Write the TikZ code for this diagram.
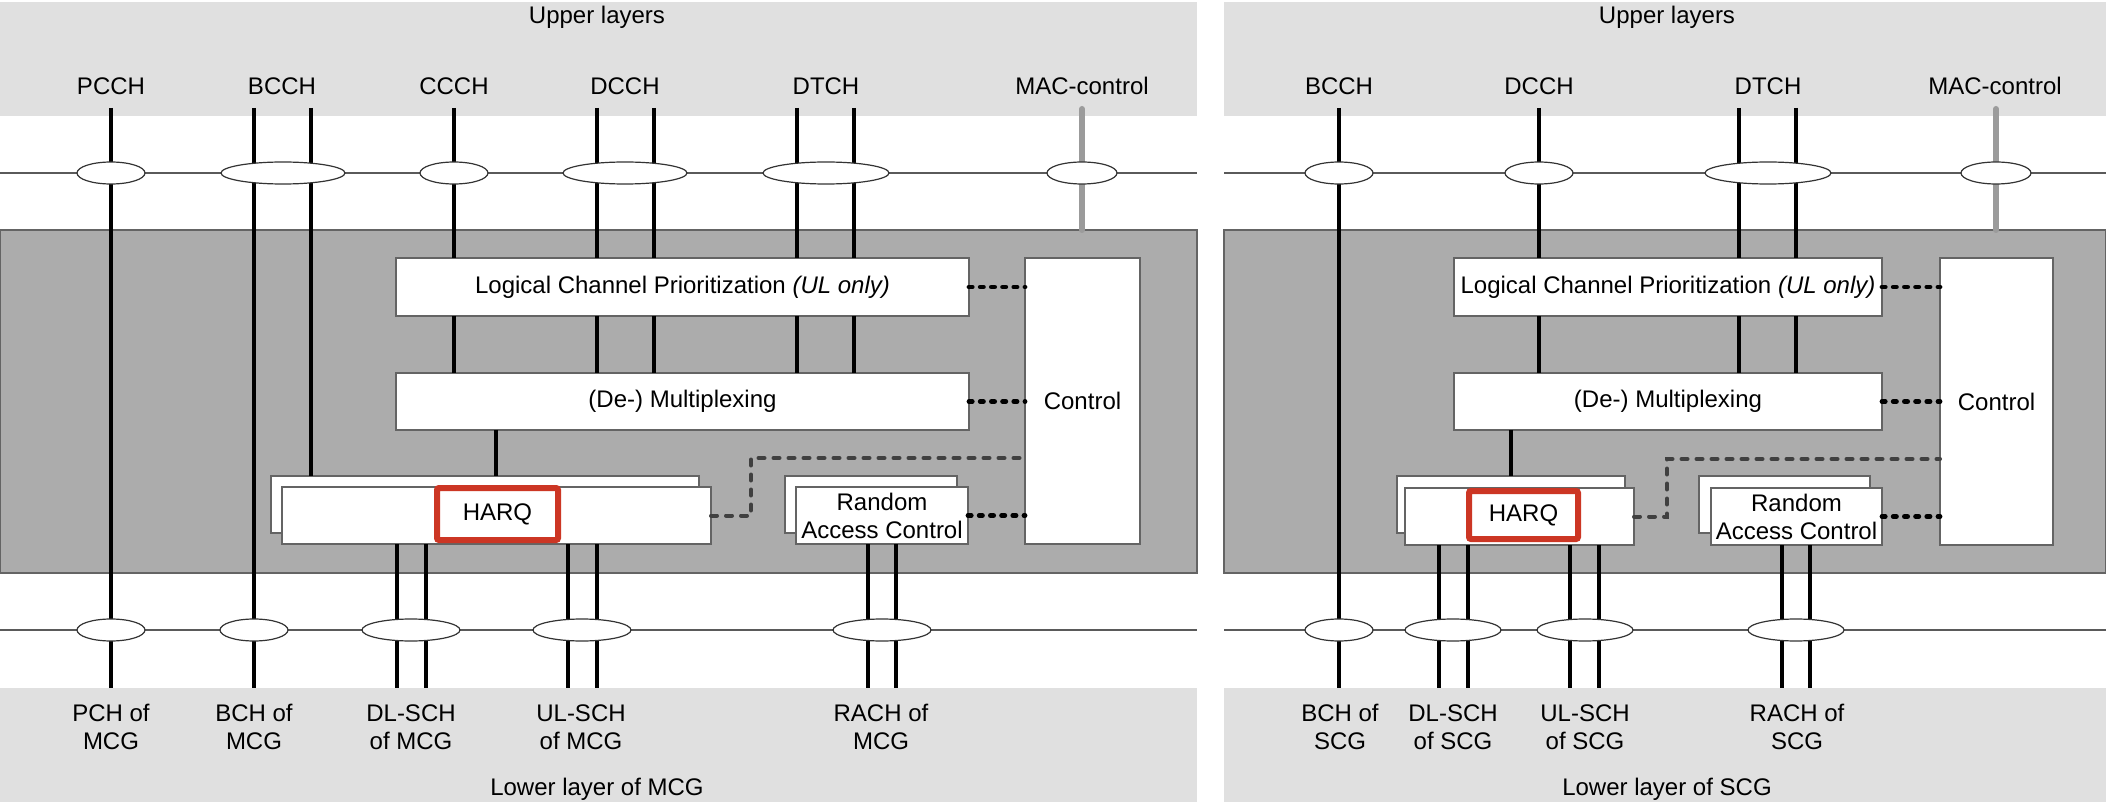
\documentclass[tikz,border=0pt]{standalone}
\usepackage{fontspec}
\setmainfont{Liberation Sans}
\usetikzlibrary{shapes.geometric,calc}
\definecolor{lightband}{RGB}{224,224,224}
\definecolor{midgray}{RGB}{172,172,172}
\definecolor{edgegray}{RGB}{100,100,100}
\definecolor{linegray}{RGB}{90,90,90}
\definecolor{macgray}{RGB}{155,155,155}
\definecolor{harqred}{RGB}{204,54,36}
\definecolor{dashgray}{RGB}{64,64,64}
\begin{document}
\begin{tikzpicture}[x=0.5pt,y=-0.5pt,
  every node/.style={font=\fontsize{12pt}{14pt}\selectfont, inner sep=0pt, outer sep=0pt},
  band/.style={fill=lightband, draw=none},
  macbox/.style={fill=midgray, draw=edgegray, line width=0.6pt},
  layerline/.style={draw=linegray, line width=0.75pt},
  ch/.style={line width=2pt, black},
  macline/.style={line width=3pt, macgray, line cap=round},
  ell/.style={ellipse, draw=black!80, fill=white, line width=0.6pt, minimum height=11pt},
  blk/.style={draw=edgegray, fill=white, line width=0.6pt, align=center},
  redbox/.style={draw=harqred, line width=3pt, fill=white, rounded corners=1pt},
  dotb/.style={line width=2.4pt, line cap=round, dash pattern=on 1.6pt off 4pt},
  dotg/.style={line width=2pt, dashgray, line cap=round, dash pattern=on 3pt off 4.5pt},
  lbl/.style={anchor=base},
  low/.style={align=center},
]
\useasboundingbox (0,0) rectangle (2106,802);
% ---------- backgrounds ----------
\fill[band] (0,2) rectangle (1197,116);
\fill[band] (0,688) rectangle (1197,802);
\fill[band] (1224,2) rectangle (2106,116);
\fill[band] (1224,688) rectangle (2106,802);
\draw[macbox] (0,230) rectangle (1197,573);
\draw[macbox] (1224,230) rectangle (2106,573);
\draw[layerline] (0,173) -- (1197,173);
\draw[layerline] (0,630) -- (1197,630);
\draw[layerline] (1224,173) -- (2106,173);
\draw[layerline] (1224,630) -- (2106,630);

% ---------- texts in bands ----------
\node[lbl] (upL) at (597,24) {Upper layers};
\node[lbl] (upR) at (1667,24) {Upper layers};
\node[lbl] (pcchL) at (111,95) {PCCH};
\node[lbl] (bcchL) at (282,95) {BCCH};
\node[lbl] (ccchL) at (454,95) {CCCH};
\node[lbl] (dcchL) at (625,95) {DCCH};
\node[lbl] (dtchL) at (826,95) {DTCH};
\node[lbl] (macL) at (1082,95) {MAC-control};
\node[lbl] (bcchR) at (1339,95) {BCCH};
\node[lbl] (dcchR) at (1539,95) {DCCH};
\node[lbl] (dtchR) at (1768,95) {DTCH};
\node[lbl] (macR) at (1995,95) {MAC-control};

\node[low] (pchL) at (111,727) {PCH of\\MCG};
\node[low] (bchL) at (254,727) {BCH of\\MCG};
\node[low] (dlL) at (411,727) {DL-SCH\\of MCG};
\node[low] (ulL) at (581,727) {UL-SCH\\of MCG};
\node[low] (rachL) at (881,727) {RACH of\\MCG};
\node[lbl] (lowL) at (597,795) {Lower layer of MCG};
\node[low] (bchR) at (1340,727) {BCH of\\SCG};
\node[low] (dlR) at (1453,727) {DL-SCH\\of SCG};
\node[low] (ulR) at (1585,727) {UL-SCH\\of SCG};
\node[low] (rachR) at (1797,727) {RACH of\\SCG};
\node[lbl] (lowR) at (1667,795) {Lower layer of SCG};

% ---------- boxes (left, MCG) ----------
\node[blk, minimum width=286.5pt, minimum height=29pt] (lcpL) at (682.5,287) {Logical Channel Prioritization \textit{(UL only)}};
\node[blk, minimum width=286.5pt, minimum height=28.5pt] (muxL) at (682.5,401.5) {(De-) Multiplexing};
\node[blk, minimum width=57.5pt, minimum height=143pt] (ctrlL) at (1082.5,401) {Control};
\node[blk, minimum width=214pt, minimum height=28.5pt] (harqbL) at (485,504.5) {};
\node[blk, minimum width=214.5pt, minimum height=28.5pt] (harqL) at (496.5,515.5) {};
\node[redbox, minimum width=60.5pt, minimum height=26pt] (redL) at (497.5,514) {HARQ};
\node[blk, minimum width=86pt, minimum height=28.5pt] (racbL) at (871,504.5) {};
\node[blk, minimum width=86pt, minimum height=28.5pt] (racL) at (882,515.5) {Random\\Access Control};

% ---------- boxes (right, SCG) ----------
\node[blk, minimum width=214pt, minimum height=29pt] (lcpR) at (1668,287) {Logical Channel Prioritization \textit{(UL only)}};
\node[blk, minimum width=214pt, minimum height=28.5pt] (muxR) at (1668,401.5) {(De-) Multiplexing};
\node[blk, minimum width=56.5pt, minimum height=143.5pt] (ctrlR) at (1996.5,401.5) {Control};
\node[blk, minimum width=114pt, minimum height=28.5pt] (harqbR) at (1511,504.5) {};
\node[blk, minimum width=114.5pt, minimum height=28.5pt] (harqR) at (1519.5,516.5) {};
\node[redbox, minimum width=54.5pt, minimum height=24pt] (redR) at (1523.5,515) {HARQ};
\node[blk, minimum width=85.5pt, minimum height=28.5pt] (racbR) at (1784.5,504.5) {};
\node[blk, minimum width=85.5pt, minimum height=28.5pt] (racR) at (1796.5,516.5) {Random\\Access Control};

% ---------- channel lines (left) ----------
\draw[ch] (111,108) -- (111,688);
\draw[ch] (254,108) -- (254,688);
\draw[ch] (311,108) -- (311,0 |- harqbL.north);
\foreach \xx in {454,597,654,797,854}{
  \draw[ch] (\xx,108) -- (\xx,0 |- lcpL.north);
  \draw[ch] (\xx,0 |- lcpL.south) -- (\xx,0 |- muxL.north);
}
\draw[ch] (496,0 |- muxL.south) -- (496,0 |- harqbL.north);
\foreach \xx in {397,426,568,597}{
  \draw[ch] (\xx,0 |- harqL.south) -- (\xx,688);
}
\foreach \xx in {868,896}{
  \draw[ch] (\xx,0 |- racL.south) -- (\xx,688);
}
\draw[macline] (1082,109) -- (1082,230);

% ---------- channel lines (right) ----------
\draw[ch] (1339,108) -- (1339,688);
\foreach \xx in {1539,1739,1796}{
  \draw[ch] (\xx,108) -- (\xx,0 |- lcpR.north);
  \draw[ch] (\xx,0 |- lcpR.south) -- (\xx,0 |- muxR.north);
}
\draw[ch] (1511,0 |- muxR.south) -- (1511,0 |- harqbR.north);
\foreach \xx in {1439,1468,1570,1599}{
  \draw[ch] (\xx,0 |- harqR.south) -- (\xx,688);
}
\foreach \xx in {1782,1810}{
  \draw[ch] (\xx,0 |- racR.south) -- (\xx,688);
}
\draw[macline] (1996,109) -- (1996,230);

% ---------- ellipses (SAPs) ----------
\node[ell, minimum width=34pt] (e1) at (111,173) {};
\node[ell, minimum width=62pt] (e2) at (283,173) {};
\node[ell, minimum width=34pt] (e3) at (454,173) {};
\node[ell, minimum width=62pt] (e4) at (625,173) {};
\node[ell, minimum width=63pt] (e5) at (826,173) {};
\node[ell, minimum width=35pt] (e6) at (1082,173) {};
\node[ell, minimum width=34pt] (f1) at (111,630) {};
\node[ell, minimum width=34pt] (f2) at (254,630) {};
\node[ell, minimum width=49pt] (f3) at (411,630) {};
\node[ell, minimum width=49pt] (f4) at (582,630) {};
\node[ell, minimum width=49pt] (f5) at (882,630) {};

\node[ell, minimum width=34pt] (g1) at (1339,173) {};
\node[ell, minimum width=34pt] (g2) at (1539,173) {};
\node[ell, minimum width=63pt] (g3) at (1768,173) {};
\node[ell, minimum width=35pt] (g4) at (1996,173) {};
\node[ell, minimum width=34pt] (h1) at (1339,630) {};
\node[ell, minimum width=48pt] (h2) at (1453,630) {};
\node[ell, minimum width=48pt] (h3) at (1585,630) {};
\node[ell, minimum width=48pt] (h4) at (1796,630) {};

% ---------- control links ----------
\draw[dotb] (lcpL.east) -- (lcpL.east -| ctrlL.west);
\draw[dotb] (muxL.east) -- (muxL.east -| ctrlL.west);
\draw[dotb] (racL.east) -- (racL.east -| ctrlL.west);
\draw[dotg] (harqL.east) -- (751,0 |- harqL.east) -- (751,458) -- (ctrlL.west |- 0,458);

\draw[dotb] (lcpR.east) -- (lcpR.east -| ctrlR.west);
\draw[dotb] (muxR.east) -- (muxR.east -| ctrlR.west);
\draw[dotb] (racR.east) -- (racR.east -| ctrlR.west);
\draw[dotg] (harqR.east) -- (1667,0 |- harqR.east) -- (1667,459) -- (ctrlR.west |- 0,459);
\end{tikzpicture}
\end{document}
